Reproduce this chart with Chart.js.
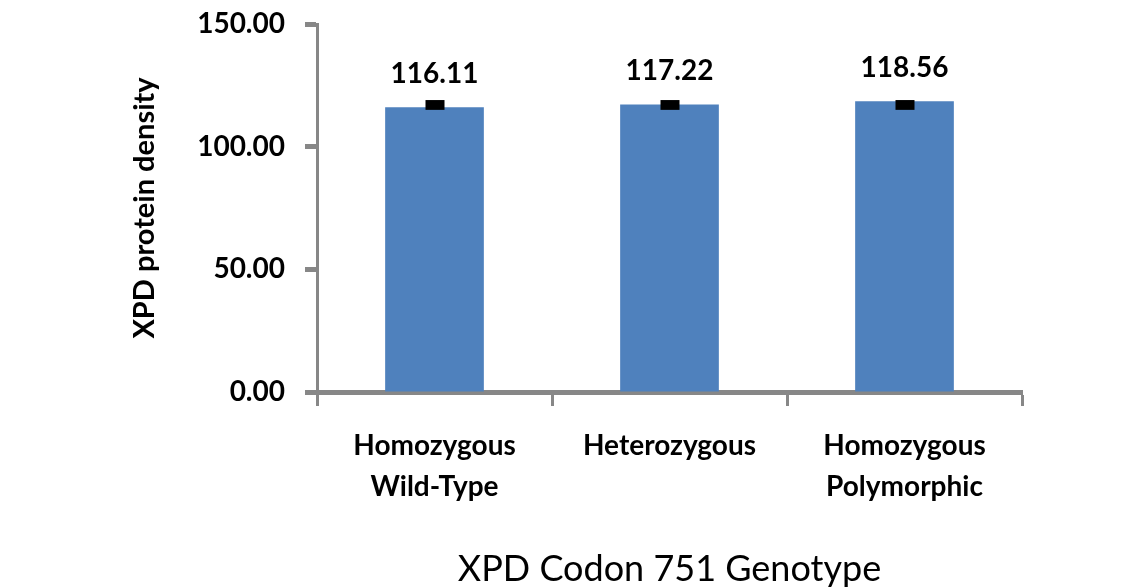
<!DOCTYPE html>
<html>
<head>
<meta charset="utf-8">
<script src="https://cdn.jsdelivr.net/npm/chart.js@4"></script>
<style>
  html, body { margin: 0; padding: 0; background: #fff; }
  #wrap { width: 1145px; height: 587px; }
</style>
</head>
<body>
<div id="wrap"><canvas id="genotypeChart"></canvas></div>
<script>
const categories = [['Homozygous', 'Wild-Type'], ['Heterozygous'], ['Homozygous', 'Polymorphic']];
const density = [116.11, 117.22, 118.56];
const errorLow = [115.0, 115.0, 115.0];
const errorHigh = [119.0, 119.0, 119.0];
const yTicks = [0, 50, 100, 150];

const FONT = 'Lato, Calibri, "DejaVu Sans", sans-serif';
const AXIS_GREY = '#878787';

// black error boxes + value labels over each bar
const barExtras = {
  id: 'barExtras',
  afterDatasetsDraw(chart) {
    const ctx = chart.ctx;
    const y = chart.scales.y;
    const meta = chart.getDatasetMeta(0);
    ctx.save();
    meta.data.forEach((bar, i) => {
      const top = y.getPixelForValue(errorHigh[i]);
      const bottom = y.getPixelForValue(errorLow[i]);
      ctx.fillStyle = '#000';
      ctx.fillRect(bar.x - 9, top, 19, bottom - top);

      ctx.font = 'bold 28px ' + FONT;
      ctx.textAlign = 'center';
      ctx.textBaseline = 'middle';
      ctx.fillText(density[i].toFixed(2), bar.x, bar.y - 33);
    });
    ctx.restore();
  }
};

const ctx = document.getElementById('genotypeChart').getContext('2d');
new Chart(ctx, {
  type: 'bar',
  data: {
    labels: categories,
    datasets: [{
      label: 'XPD protein density',
      data: density,
      backgroundColor: '#4F81BD',
      categoryPercentage: 1,
      barPercentage: 0.42
    }]
  },
  options: {
    responsive: true,
    maintainAspectRatio: false,
    animation: false,
    layout: { padding: { left: 125, right: 123, top: 24, bottom: 0 } },
    plugins: {
      legend: { display: false },
      tooltip: { enabled: false }
    },
    scales: {
      x: {
        afterFit: s => { s.height = 195; s.paddingLeft = 0; s.paddingRight = 0; },
        grid: {
          drawOnChartArea: false,
          offset: true,
          tickLength: 14,
          tickWidth: 3,
          tickColor: AXIS_GREY
        },
        border: { color: AXIS_GREY, width: 5 },
        ticks: {
          color: '#000',
          padding: 19,
          font: { family: FONT, size: 28, weight: 'bold', lineHeight: '41px' }
        },
        title: {
          display: true,
          text: 'XPD Codon 751 Genotype',
          color: '#000',
          font: { family: FONT, size: 36, lineHeight: 1 },
          padding: { top: 0, bottom: 0 }
        }
      },
      y: {
        min: 0,
        max: 150,
        afterFit: s => { s.width = 192; s.paddingTop = 0; s.paddingBottom = 0; },
        afterBuildTicks: s => { s.ticks = yTicks.map(v => ({ value: v })); },
        grid: {
          drawOnChartArea: false,
          tickLength: 12,
          tickWidth: 5,
          tickColor: AXIS_GREY
        },
        border: { color: AXIS_GREY, width: 3 },
        ticks: {
          color: '#000',
          padding: 20,
          font: { family: FONT, size: 28, weight: 'bold' },
          callback: v => v.toFixed(2)
        },
        title: {
          display: true,
          text: 'XPD protein density',
          color: '#000',
          font: { family: FONT, size: 29, weight: 'bold' },
          padding: { top: 2, bottom: 0 }
        }
      }
    }
  },
  plugins: [barExtras]
});
</script>
</body>
</html>
